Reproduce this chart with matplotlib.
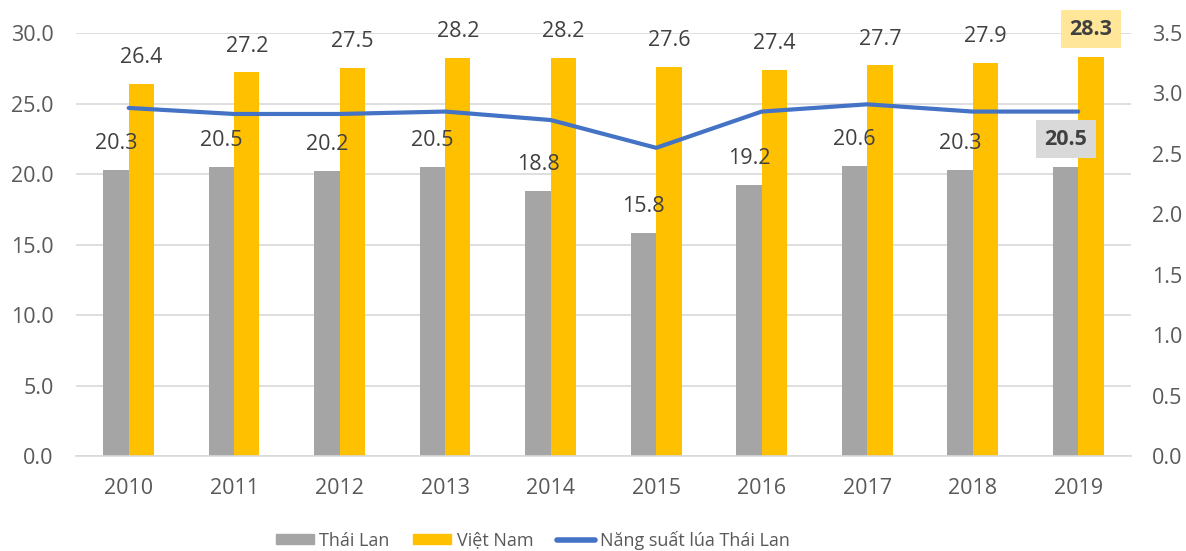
import matplotlib
matplotlib.use('Agg')
import matplotlib.pyplot as plt
import matplotlib.patches as mpatches
import matplotlib.lines as mlines
import numpy as np

plt.rcParams['font.family'] = ['Open Sans', 'DejaVu Sans']

years = ['2010', '2011', '2012', '2013', '2014', '2015', '2016', '2017', '2018', '2019']
thai = [20.3, 20.5, 20.2, 20.5, 18.8, 15.8, 19.2, 20.6, 20.3, 20.5]
vietnam = [26.4, 27.2, 27.5, 28.2, 28.2, 27.6, 27.4, 27.7, 27.9, 28.3]
thai_yield = [2.88, 2.83, 2.83, 2.85, 2.78, 2.55, 2.85, 2.91, 2.85, 2.85]

gray = '#A5A5A5'
yellow = '#FFC000'
blue = '#4472C4'
text_col = '#404040'
tick_col = '#595959'
grid_col = '#D9D9D9'
fs = 15.5

fig = plt.figure(figsize=(11.86, 5.51), dpi=100)
ax = fig.add_axes([0.064, 0.1724, 0.8896, 0.7677])
ax2 = ax.twinx()

x = np.arange(len(years))
w = 0.24
ax.bar(x - w / 2, thai, w, color=gray, zorder=2)
ax.bar(x + w / 2, vietnam, w, color=yellow, zorder=2)

# value labels; last year highlighted with boxes
for i in range(len(years)):
    last = i == len(years) - 1
    kw = dict(ha='center', va='center', fontsize=fs, color=text_col,
              textcoords='offset points', xytext=(0, 19), zorder=5)
    if last:
        kw['xytext'] = (0, 20)
        ax.annotate(f'{thai[i]:.1f}', (x[i] - w / 2, thai[i]), fontweight='bold',
                    bbox=dict(boxstyle='square,pad=0.4', fc='#D9D9D9', ec='none'), **kw)
        ax.annotate(f'{vietnam[i]:.1f}', (x[i] + w / 2, vietnam[i]), fontweight='bold',
                    bbox=dict(boxstyle='square,pad=0.4', fc='#FFE699', ec='none'), **kw)
    else:
        ax.annotate(f'{thai[i]:.1f}', (x[i] - w / 2, thai[i]), **kw)
        ax.annotate(f'{vietnam[i]:.1f}', (x[i] + w / 2, vietnam[i]), **kw)

ax2.plot(x, thai_yield, color=blue, linewidth=3, solid_capstyle='round', zorder=4)

ax.set_xlim(-0.5, len(years) - 0.5)
ax.set_ylim(0, 30)
ax2.set_ylim(0, 3.5)
ax.set_yticks(np.arange(0, 30.1, 5))
ax.set_yticklabels([f'{v:.1f}' for v in np.arange(0, 30.1, 5)])
ax2.set_yticks(np.arange(0, 3.51, 0.5))
ax2.set_yticklabels([f'{v:.1f}' for v in np.arange(0, 3.51, 0.5)])
ax.set_xticks(x)
ax.set_xticklabels(years)

ax.grid(axis='y', color=grid_col, linewidth=1.2, zorder=0)
ax.set_axisbelow(True)
for a in (ax, ax2):
    for s in a.spines.values():
        s.set_visible(False)
ax.spines['bottom'].set_visible(True)
ax.spines['bottom'].set_color(grid_col)
ax.spines['bottom'].set_linewidth(1.2)

ax.tick_params(axis='y', length=0, pad=16, labelsize=fs, labelcolor=tick_col)
ax.tick_params(axis='x', length=0, pad=16, labelsize=fs, labelcolor=tick_col)
ax2.tick_params(axis='y', length=0, pad=15, labelsize=fs, labelcolor=tick_col)

handles = [mpatches.Patch(color=gray, label='Thái Lan'),
           mpatches.Patch(color=yellow, label='Việt Nam'),
           mlines.Line2D([], [], color=blue, linewidth=4, solid_capstyle='round',
                         label='Năng suất lúa Thái Lan')]
leg = fig.legend(handles=handles, loc='center left', bbox_to_anchor=(276 / 1186, 1 - 540 / 551),
                 ncol=3, frameon=False, fontsize=13, handlelength=2.1, handleheight=0.5,
                 handletextpad=0.3, columnspacing=1.3, borderpad=0, borderaxespad=0)
for t in leg.get_texts():
    t.set_color(tick_col)

plt.savefig('out.png', dpi=100)
plt.close()
